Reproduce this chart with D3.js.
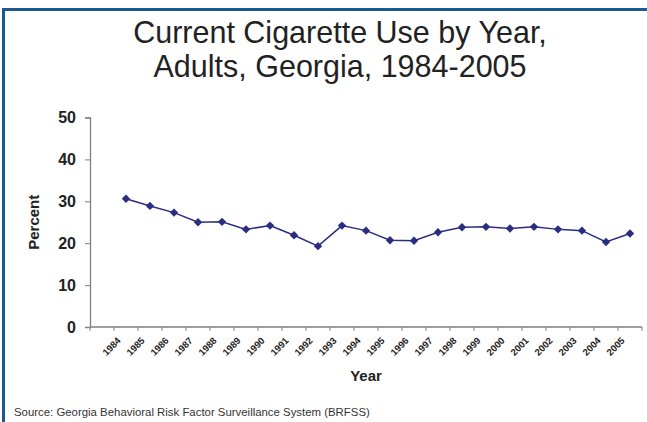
<!DOCTYPE html>
<html><head><meta charset="utf-8">
<script src="https://cdn.jsdelivr.net/npm/d3@7"></script>
<style>
html,body{margin:0;padding:0;background:#fff;}
svg{display:block;font-family:"Liberation Sans",Arial,sans-serif;}
</style></head>
<body>
<svg id="chart" width="647" height="422"></svg>
<script>
const titleLines = ["Current Cigarette Use by Year,", "Adults, Georgia, 1984-2005"];
const years = ["1984","1985","1986","1987","1988","1989","1990","1991","1992","1993","1994",
               "1995","1996","1997","1998","1999","2000","2001","2002","2003","2004","2005"];
const percent = [30.6, 28.9, 27.3, 25.0, 25.1, 23.3, 24.2, 21.9, 19.3, 24.2, 23.0,
                 20.7, 20.6, 22.6, 23.8, 23.9, 23.5, 23.9, 23.3, 23.0, 20.3, 22.3];
const yTicks = [0, 10, 20, 30, 40, 50];
const yLabel = "Percent";
const xLabel = "Year";
const source = "Source: Georgia Behavioral Risk Factor Surveillance System (BRFSS)";

(function () {
const svg = d3.select("#chart");
const W = 647, H = 422;
const mLeft = 90, mRight = 642, mTop = 117.5, mBottom = 327;
const FONT = "Liberation Sans, Arial, sans-serif";

// frame
svg.append("line").attr("x1", 3).attr("x2", W).attr("y1", 9.5).attr("y2", 9.5)
  .attr("stroke", "#1c5a8e").attr("stroke-width", 3);
svg.append("line").attr("x1", 3.5).attr("x2", 3.5).attr("y1", 8).attr("y2", H)
  .attr("stroke", "#1c5a8e").attr("stroke-width", 3);

// title
svg.append("g").selectAll("text").data(titleLines).join("text")
  .attr("x", 340).attr("y", (d, i) => 43 + i * 34)
  .attr("text-anchor", "middle").attr("font-size", 30.5).attr("fill", "#222")
  .text(d => d);

// scales
const cats = [""].concat(years);
const x = d3.scaleBand().domain(cats).range([mLeft, mRight]).padding(0);
const y = d3.scaleLinear().domain([0, 50]).range([mBottom, mTop]);

// y axis
const yAxis = svg.append("g").attr("transform", `translate(${mLeft},0)`)
  .call(d3.axisLeft(y).tickValues(yTicks).tickSize(5).tickPadding(9).tickFormat(d3.format("d")));
yAxis.select(".domain").attr("stroke", "#808080").attr("stroke-width", 1.3);
yAxis.selectAll(".tick line").attr("stroke", "#808080");
yAxis.selectAll(".tick text").attr("font-size", 16).attr("font-weight", "bold")
  .attr("fill", "#222").attr("font-family", FONT);

// x axis with ticks at band boundaries
const xg = svg.append("g").attr("transform", `translate(0,${mBottom})`);
xg.append("line").attr("x1", mLeft).attr("x2", mRight).attr("stroke", "#808080").attr("stroke-width", 1.3);
const boundaries = cats.map(c => x(c)).concat([mRight]);
xg.selectAll("line.tk").data(boundaries).join("line").attr("class", "tk")
  .attr("x1", d => d).attr("x2", d => d).attr("y1", 0).attr("y2", 4)
  .attr("stroke", "#808080");
xg.selectAll("text").data(years).join("text")
  .attr("transform", d => `translate(${x(d) + x.bandwidth() / 2 - 7},${12}) rotate(-45)`)
  .attr("text-anchor", "end").attr("dy", "0.35em")
  .attr("font-size", 9.5).attr("font-weight", "bold").attr("fill", "#222").text(d => d);

// axis titles
svg.append("text").attr("transform", `translate(39,${(mTop + mBottom) / 2}) rotate(-90)`)
  .attr("text-anchor", "middle").attr("font-size", 15).attr("font-weight", "bold")
  .attr("fill", "#222").text(yLabel);
svg.append("text").attr("x", 366).attr("y", 381).attr("text-anchor", "middle")
  .attr("font-size", 15).attr("font-weight", "bold").attr("fill", "#222").text(xLabel);

// line
const pts = years.map((yr, i) => ({ yr, v: percent[i] }));
const cx = d => x(d.yr) + x.bandwidth() / 2;
svg.append("path").datum(pts)
  .attr("d", d3.line().x(cx).y(d => y(d.v)))
  .attr("fill", "none").attr("stroke", "#2b2e80").attr("stroke-width", 1.5);
svg.append("g").selectAll("path").data(pts).join("path")
  .attr("transform", d => `translate(${cx(d)},${y(d.v)})`)
  .attr("d", "M0,-4.2L4.2,0L0,4.2L-4.2,0Z")
  .attr("fill", "#2b2e80");

// source
svg.append("text").attr("x", 14).attr("y", 416).attr("font-size", 11.4)
  .attr("fill", "#333").text(source);
})();
</script>
</body></html>
